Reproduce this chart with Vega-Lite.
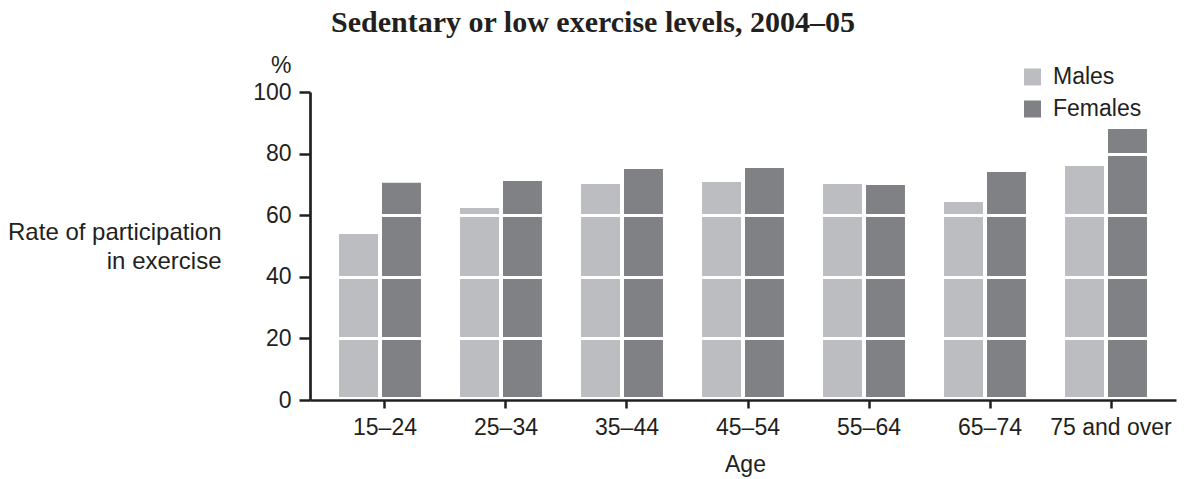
{
  "$schema": "https://vega.github.io/schema/vega-lite/v6.json",
  "width": 866,
  "height": 308,
  "autosize": {"type": "none"},
  "padding": {"left": 310, "top": 92, "right": 10, "bottom": 79},
  "background": "white",
  "title": {
    "text": "Sedentary or low exercise levels, 2004–05",
    "font": "Liberation Serif",
    "fontSize": 30,
    "fontWeight": "bold",
    "color": "#231f20",
    "anchor": "middle",
    "frame": "group",
    "dx": -150,
    "offset": 16
  },
  "config": {
    "view": {"stroke": null},
    "font": "Liberation Sans"
  },
  "data": {
    "values": [
      {"age": "15–24", "sex": "Males", "value": 53.9},
      {"age": "15–24", "sex": "Females", "value": 70.5},
      {"age": "25–34", "sex": "Males", "value": 62.3},
      {"age": "25–34", "sex": "Females", "value": 71.1},
      {"age": "35–44", "sex": "Males", "value": 70.1},
      {"age": "35–44", "sex": "Females", "value": 75.0},
      {"age": "45–54", "sex": "Males", "value": 70.8},
      {"age": "45–54", "sex": "Females", "value": 75.3},
      {"age": "55–64", "sex": "Males", "value": 70.1},
      {"age": "55–64", "sex": "Females", "value": 69.8},
      {"age": "65–74", "sex": "Males", "value": 64.3},
      {"age": "65–74", "sex": "Females", "value": 74.0},
      {"age": "75 and over", "sex": "Males", "value": 76.0},
      {"age": "75 and over", "sex": "Females", "value": 88.0}
    ]
  },
  "resolve": {"axis": {"y": "independent"}},
  "layer": [
    {
      "mark": {"type": "bar"},
      "encoding": {
        "x": {
          "field": "age",
          "type": "nominal",
          "sort": null,
          "scale": {"paddingInner": 0.323, "paddingOuter": 0.24},
          "axis": {
            "title": "Age",
            "labelAngle": 0,
            "labelFont": "Liberation Sans",
            "labelFontSize": 23,
            "labelColor": "#231f20",
            "labelPadding": 8,
            "tickSize": 8,
            "tickWidth": 2.5,
            "tickColor": "#231f20",
            "tickOffset": 4.5,
            "domainColor": "#231f20",
            "domainWidth": 2.7,
            "titleFont": "Liberation Sans",
            "titleFontSize": 23,
            "titleFontWeight": "normal",
            "titleColor": "#231f20",
            "titleBaseline": "alphabetic",
            "titleY": 71.5,
            "titleX": 435,
            "zindex": 2
          }
        },
        "xOffset": {
          "field": "sex",
          "type": "nominal",
          "sort": ["Males", "Females"],
          "scale": {"paddingInner": 0.093, "paddingOuter": 0}
        },
        "y": {
          "field": "value",
          "type": "quantitative",
          "scale": {"domain": [0, 100], "nice": false},
          "axis": {
            "title": "%",
            "titleAngle": 0,
            "titleAlign": "right",
            "titleBaseline": "middle",
            "titleX": -19,
            "titleY": -27,
            "titleFont": "Liberation Sans",
            "titleFontSize": 23,
            "titleFontWeight": "normal",
            "titleColor": "#231f20",
            "values": [0, 20, 40, 60, 80, 100],
            "labelFont": "Liberation Sans",
            "labelFontSize": 23,
            "labelColor": "#231f20",
            "labelPadding": 8,
            "tickSize": 11,
            "tickWidth": 2.5,
            "tickColor": "#231f20",
            "domainColor": "#231f20",
            "domainWidth": 2.7,
            "grid": true,
            "gridColor": "white",
            "gridOpacity": 1,
            "gridWidth": {"condition": {"test": "datum.value === 0", "value": 7}, "value": 3},
            "zindex": 1
          }
        },
        "color": {
          "field": "sex",
          "type": "nominal",
          "sort": ["Males", "Females"],
          "scale": {"domain": ["Males", "Females"], "range": ["#bcbdc0", "#808184"]},
          "legend": {
            "title": null,
            "orient": "none",
            "legendX": 711,
            "legendY": -26.5,
            "symbolType": "square",
            "symbolSize": 289,
            "symbolStrokeWidth": 0,
            "symbolOpacity": 1,
            "labelFont": "Liberation Sans",
            "labelFontSize": 23,
            "labelColor": "#231f20",
            "labelOffset": 9,
            "rowPadding": 8,
            "padding": 0
          }
        }
      }
    },
    {
      "data": {"values": []},
      "mark": {"type": "bar"},
      "encoding": {
        "y": {
          "field": "value",
          "type": "quantitative",
          "axis": {
            "orient": "left",
            "title": ["Rate of participation", "in exercise"],
            "titleAngle": 0,
            "titleAlign": "right",
            "titleBaseline": "middle",
            "titleX": -89,
            "titleY": 140,
            "titleLineHeight": 29,
            "titleFont": "Liberation Sans",
            "titleFontSize": 24,
            "titleFontWeight": "normal",
            "titleColor": "#231f20",
            "domain": false,
            "ticks": false,
            "labels": false,
            "grid": false
          }
        }
      }
    }
  ]
}
